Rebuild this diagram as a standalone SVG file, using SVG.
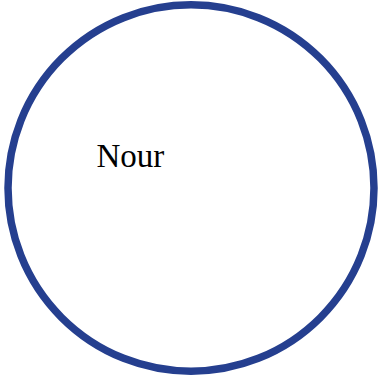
<svg xmlns="http://www.w3.org/2000/svg" width="380" height="378" viewBox="0 0 380 378">
<style>
.node-shape{fill:#ffffff;stroke:#253f8f;stroke-width:7.5}
.label{font-family:"Liberation Serif","Times New Roman",serif;font-size:33px;fill:#000000}
</style>
<rect width="380" height="378" fill="#ffffff"/>
<g id="connectors"></g>
<g id="node-nour">
<ellipse class="node-shape" cx="191" cy="188" rx="183" ry="183.2"/>
<text class="label" x="96.5" y="167">Nour</text>
</g>
</svg>
